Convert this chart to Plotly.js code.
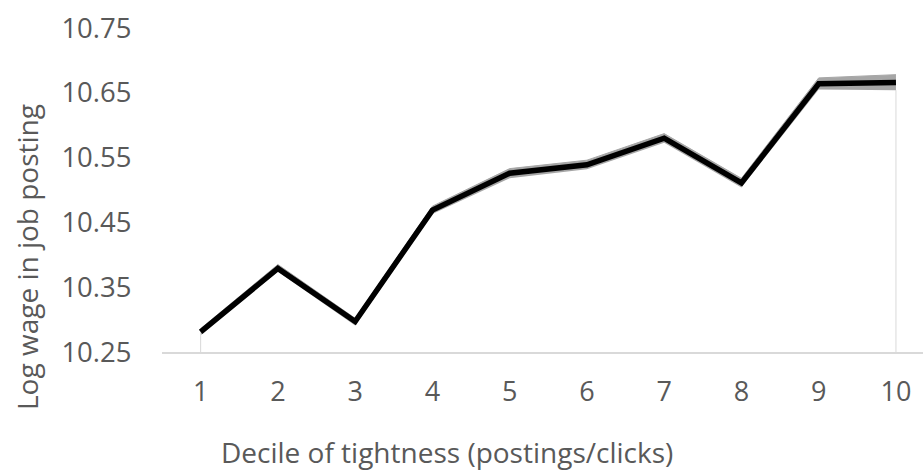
<!DOCTYPE html>
<html>
<head>
<meta charset="utf-8">
<script src="https://cdn.plot.ly/plotly-3.0.1.min.js"></script>
<style>html,body{margin:0;padding:0;background:#fff;}#chart{width:923px;height:472px;}</style>
</head>
<body>
<div id="chart"></div>
<script>
var deciles = [1, 2, 3, 4, 5, 6, 7, 8, 9, 10];
var logWage = [10.281, 10.379, 10.297, 10.469, 10.526, 10.539, 10.580, 10.511, 10.664, 10.666];
var lowerCI = [10.276, 10.374, 10.291, 10.463, 10.518, 10.532, 10.573, 10.504, 10.655, 10.654];
var upperCI = [10.286, 10.385, 10.302, 10.475, 10.533, 10.546, 10.587, 10.518, 10.673, 10.678];
var yTicks = [10.25, 10.35, 10.45, 10.55, 10.65, 10.75];
var yTickText = ["10.25", "10.35", "10.45", "10.55", "10.65", "10.75"];
var xTitle = 'Decile of tightness (postings/clicks)';
var yTitle = 'Log wage in job posting';

var base = yTicks[0];
var last = deciles.length - 1;

var traces = [
  {
    x: [deciles[0], deciles[0], null, deciles[last], deciles[last]],
    y: [base, lowerCI[0], null, base, lowerCI[last]],
    mode: 'lines', line: {color: '#d9d9d9', width: 1},
    hoverinfo: 'skip', showlegend: false
  },
  {
    x: deciles, y: lowerCI, mode: 'lines',
    line: {color: 'rgba(0,0,0,0)', width: 0},
    showlegend: false, name: 'Lower'
  },
  {
    x: deciles, y: upperCI, mode: 'lines', fill: 'tonexty',
    fillcolor: '#a6a6a6', line: {color: '#a6a6a6', width: 1},
    showlegend: false, name: 'Upper'
  },
  {
    x: deciles, y: logWage, mode: 'lines',
    line: {color: '#000000', width: 5.5},
    showlegend: false, name: 'Log wage'
  }
];

var fontFam = '"Open Sans", sans-serif';
var layout = {
  width: 923, height: 472,
  paper_bgcolor: '#ffffff', plot_bgcolor: '#ffffff',
  margin: {l: 162, r: 0, t: 28, b: 120, pad: 0},
  showlegend: false,
  font: {family: fontFam, color: '#595959', size: 27},
  xaxis: {
    range: [0.5, 10.35],
    tickmode: 'array', tickvals: deciles, ticktext: deciles.map(String),
    showgrid: false, zeroline: false,
    showline: true, linecolor: '#d9d9d9', linewidth: 1.5,
    ticks: 'outside', ticklen: 15, tickcolor: 'rgba(0,0,0,0)',
    tickfont: {family: fontFam, size: 27, color: '#595959'},
    automargin: false, fixedrange: true
  },
  yaxis: {
    range: [10.25, 10.75],
    tickmode: 'array', tickvals: yTicks, ticktext: yTickText,
    showgrid: false, zeroline: false, showline: false,
    ticks: 'outside', ticklen: 24, tickcolor: 'rgba(0,0,0,0)',
    tickfont: {family: fontFam, size: 27.5, color: '#595959'},
    automargin: false, fixedrange: true
  },
  annotations: [
    {
      text: xTitle, xref: 'paper', yref: 'paper',
      x: (447 - 162) / 761, y: (352 - 452) / 324,
      xanchor: 'center', yanchor: 'middle', showarrow: false,
      font: {family: fontFam, size: 28, color: '#595959'}
    },
    {
      text: yTitle, xref: 'paper', yref: 'paper',
      x: (27 - 162) / 761, y: (352 - 257) / 324,
      xanchor: 'center', yanchor: 'middle', showarrow: false, textangle: -90,
      font: {family: fontFam, size: 28, color: '#595959'}
    }
  ]
};

Plotly.newPlot('chart', traces, layout, {staticPlot: true, displayModeBar: false});
</script>
</body>
</html>
